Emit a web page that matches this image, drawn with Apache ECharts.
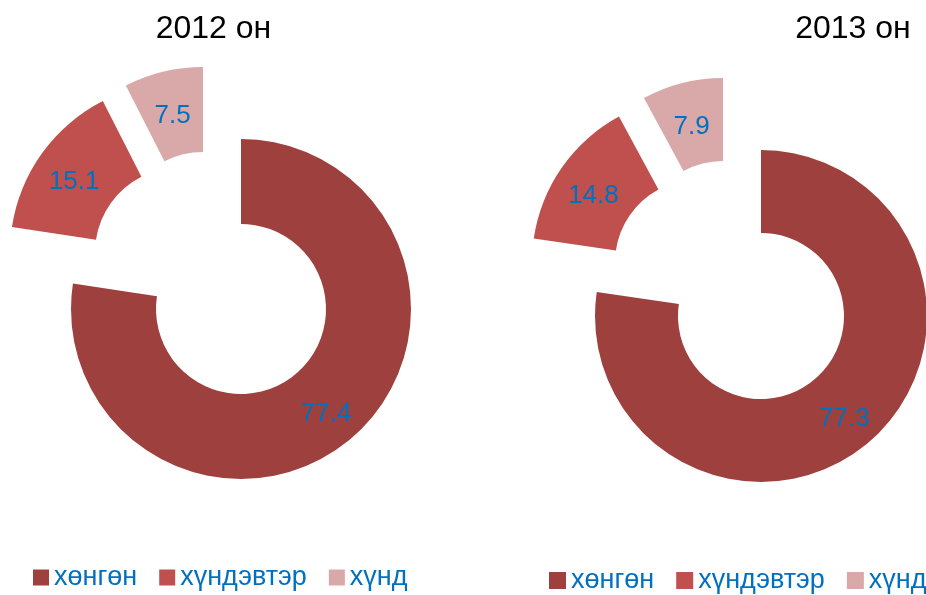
<!DOCTYPE html>
<html>
<head>
<meta charset="utf-8">
<script src="https://cdn.jsdelivr.net/npm/echarts@6/dist/echarts.min.js"></script>
<style>
  html, body { margin: 0; padding: 0; background: #fff; }
  #chart { width: 926px; height: 595px; }
</style>
</head>
<body>
<div id="chart"></div>
<script>
// Injury severity shares (%) by year
const categories = ['хөнгөн', 'хүндэвтэр', 'хүнд'];
const years = ['2012 он', '2013 он'];
const values2012 = [77.4, 15.1, 7.5];
const values2013 = [77.3, 14.8, 7.9];

const palette = ['#9E403E', '#C0504D', '#D9A9A9'];
const labelColor = '#0070C0';
const fontFamily = '"Liberation Sans", Arial, sans-serif';

// Per-donut layout: ring centre, radii, and the pull-out offset of each slice
const layouts = [
  { cx: 241, cy: 309, radius: [85, 170], shifts: [[0, 0], [-61, -56.5], [-38, -72]],
    titleX: 213.5, legendLeft: 33, legendTop: 564, iconSize: 16 },
  { cx: 761, cy: 316, radius: [83, 166], shifts: [[0, 0], [-63, -53.5], [-38, -72]],
    titleX: 853, legendLeft: 549, legendTop: 567, iconSize: 17 }
];
const yearValues = [values2012, values2013];

const series = [];
const titles = [];
const legends = [];

layouts.forEach((lay, c) => {
  const vals = yearValues[c];
  titles.push({
    text: years[c],
    left: lay.titleX,
    top: 13,
    padding: 0,
    textAlign: 'center',
    textStyle: { fontFamily, fontSize: 32, fontWeight: 'normal', color: '#000' }
  });
  legends.push({
    left: lay.legendLeft,
    top: lay.legendTop,
    width: 700,
    padding: 0,
    orient: 'horizontal',
    itemWidth: lay.iconSize,
    itemHeight: lay.iconSize,
    itemGap: 22,
    icon: 'rect',
    selectedMode: false,
    textStyle: { fontFamily, fontSize: 27, color: labelColor, padding: [6, 0, 0, 0] },
    data: categories.map((n, i) => ({ name: n, itemStyle: { color: palette[i] } }))
  });
  // each slice is drawn by its own ring so it can be pulled out independently
  categories.forEach((_, k) => {
    series.push({
      type: 'pie',
      silent: true,
      animation: false,
      center: [lay.cx + lay.shifts[k][0], lay.cy + lay.shifts[k][1]],
      radius: lay.radius,
      startAngle: 90,
      clockwise: true,
      avoidLabelOverlap: false,
      labelLine: { show: false },
      label: {
        position: 'inside',
        formatter: '{c}',
        color: labelColor,
        fontFamily,
        fontSize: 26
      },
      labelLayout: { dy: 6 },
      data: categories.map((name, i) => ({
        name,
        value: vals[i],
        itemStyle: i === k ? { color: palette[i] } : { color: 'rgba(0,0,0,0)' },
        label: { show: i === k }
      }))
    });
  });
});

const chart = echarts.init(document.getElementById('chart'), null, { renderer: 'canvas' });
chart.setOption({
  backgroundColor: '#fff',
  animation: false,
  title: titles,
  legend: legends,
  series
});
</script>
</body>
</html>
